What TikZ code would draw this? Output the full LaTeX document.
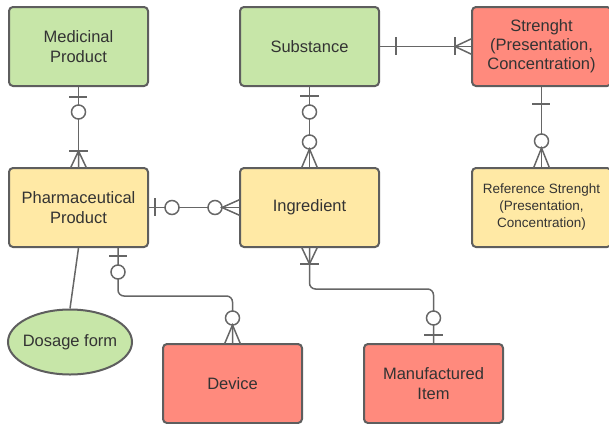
\documentclass[tikz,border=0pt]{standalone}
\usepackage{fontspec}
\setmainfont{Liberation Sans}
\usetikzlibrary{calc,shapes.geometric}
\definecolor{gfill}{HTML}{C7E6A8}
\definecolor{yfill}{HTML}{FFE9A5}
\definecolor{rfill}{HTML}{FF8A7D}
\definecolor{bordercol}{HTML}{5E5E5E}
\definecolor{linecol}{HTML}{666666}
\definecolor{textcol}{HTML}{333333}
\begin{document}
\begin{tikzpicture}[x=1pt,y=-1pt,
  entity/.style={draw=bordercol, line width=2pt, rounded corners=4pt, minimum width=139pt, minimum height=79pt, inner sep=0pt, align=center, text=textcol, font=\fontsize{16.5}{20}\selectfont},
  three/.style={font=\fontsize{16.5}{19}\selectfont},
  small/.style={font=\fontsize{13.5}{17}\selectfont},
  conn/.style={draw=linecol, line width=1.5pt},
  ring/.style={draw=linecol, line width=1.5pt, fill=white}]
\useasboundingbox (0,0) rectangle (609,423);
% entities
\node[entity, fill=gfill] (med) at (78.5,46.5) {Medicinal\\Product};
\node[entity, fill=gfill] (sub) at (309.5,46.5) {Substance};
\node[entity, fill=rfill, three] (str) at (541.5,46.5) {Strenght\\(Presentation,\\Concentration)};
\node[entity, fill=yfill] (pha) at (78.5,207.5) {Pharmaceutical\\Product};
\node[entity, fill=yfill] (ing) at (309.5,207.5) {Ingredient};
\node[entity, fill=yfill, small] (ref) at (541.5,207.5) {Reference Strenght\\(Presentation,\\Concentration)};
\node[entity, fill=rfill] (dev) at (232.5,383.5) {Device};
\node[entity, fill=rfill] (man) at (433.5,383.5) {Manufactured\\Item};
\node[ellipse, draw=bordercol, line width=2pt, fill=gfill, minimum width=124pt, minimum height=65pt, inner sep=0pt] (dos) at (70,342) {};
\node[text=textcol, font=\fontsize{16.5}{20}\selectfont, inner sep=0pt] (dostext) at (dos.center) {Dosage form};
% connectors
\draw[conn] (med.south) -- (pha.north);
\draw[conn] (pha.east) -- (ing.west);
\draw[conn] (sub.south) -- (ing.north);
\draw[conn] (sub.east) -- (str.west);
\draw[conn] (str.south) -- (ref.north);
\draw[conn, rounded corners=6pt] ($(pha.south)+(39.5,0)$) -- ++(0,48) -| (dev.north);
\draw[conn, rounded corners=6pt] (ing.south) -- ++(0,41) -| (man.north);
\draw[conn] (pha.south) -- (dos.north);
% med -> pha
\draw[conn] (69,97) -- (87,97);
\draw[ring] (78.5,112) circle (7);
\draw[conn] (69,151) -- (88,151);
\draw[conn] (70.5,168) -- (78.5,151) -- (86.5,168) (78.5,151) -- (78.5,168);
% pha -> ing
\draw[conn] (155,198) -- (155,216);
\draw[ring] (172,207.5) circle (7);
\draw[ring] (215,207.5) circle (7);
\draw[conn] (240,199.5) -- (222,207.5) -- (240,215.5);
% sub -> ing
\draw[conn] (300,96) -- (319,96);
\draw[ring] (309.5,112) circle (7);
\draw[ring] (309.5,142) circle (7);
\draw[conn] (301.5,168) -- (309.5,149) -- (317.5,168);
% sub -> str
\draw[conn] (396,37) -- (396,55);
\draw[conn] (455,37) -- (455,55);
\draw[conn] (472,38.5) -- (455,46.5) -- (472,54.5);
% str -> ref
\draw[conn] (532,104) -- (550,104);
\draw[ring] (541.5,141) circle (7);
\draw[conn] (533.5,168) -- (541.5,148) -- (549.5,168);
% pha -> dev
\draw[conn] (109,256) -- (127,256);
\draw[ring] (118,272) circle (7);
\draw[ring] (232.5,318) circle (7);
\draw[conn] (224.5,344) -- (232.5,325) -- (240.5,344);
% ing -> man
\draw[conn] (301.5,247) -- (309.5,264) -- (317.5,247);
\draw[conn] (300,264) -- (319,264);
\draw[ring] (433.5,318) circle (7);
\draw[conn] (424,335) -- (443,335);
\end{tikzpicture}
\end{document}
